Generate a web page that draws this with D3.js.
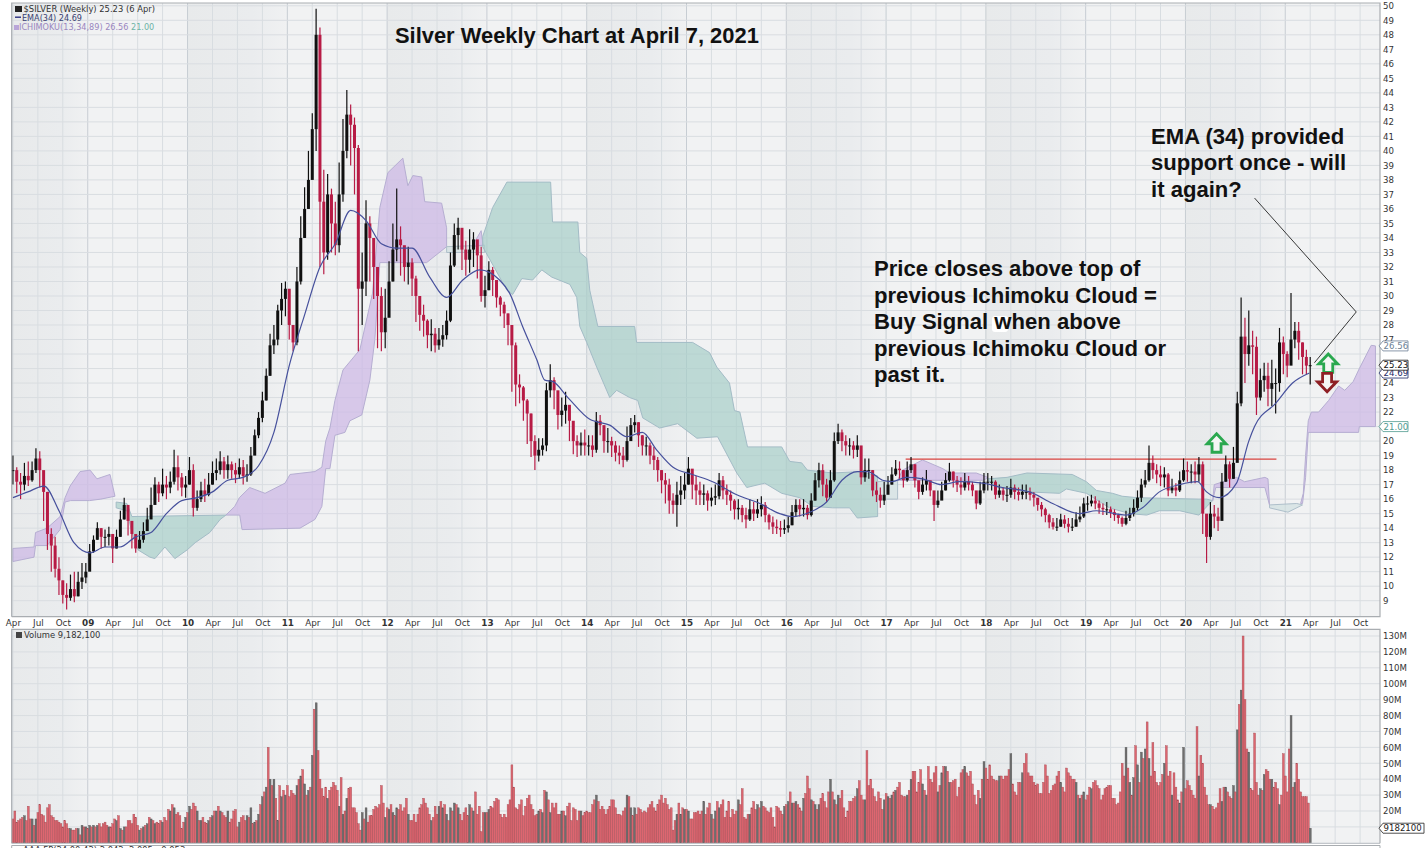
<!DOCTYPE html>
<html><head><meta charset="utf-8">
<script src="https://cdn.jsdelivr.net/npm/d3@7/dist/d3.min.js"></script>
<style>html,body{margin:0;padding:0;background:#fff;overflow:hidden}svg{display:block}</style>
</head><body><svg id="c" width="1428" height="848"></svg>
<script>
// Two-week price readings, Apr 2008 -> Apr 2021 (period = 2 weeks)
const closes=[
18.0,17.2,17.0,17.6,17.3,18.0,18.8,18.0,16.5,13.6,12.8,11.2,10.4,9.4,9.2,9.8,9.3,10.3,10.6,11.0,
12.4,13.2,14.0,13.4,13.4,13.6,12.6,13.4,14.6,15.6,14.5,13.6,12.6,13.2,13.8,14.6,15.6,17.0,16.4,17.0,16.8,17.2,18.2,17.5,16.8,17.0,
18.0,15.4,16.0,16.6,16.3,17.0,17.8,18.0,18.6,18.0,18.4,18.0,17.7,18.2,17.6,17.7,19.0,20.4,21.6,22.8,24.5,26.6,27.0,29.0,29.8,30.5,
28,26.8,31,34,36,38,41.5,48,36.5,33,37,35,33.5,37,40,42.5,41.8,40.2,30.5,31,35,34,32,30,27.5,28.5,
31,33.2,33.9,33.5,32,32.3,31.2,30,28.7,28.3,27.3,27.4,26.6,27,27.3,28.3,32.1,34.2,34.7,33.2,32.5,33.2,33.9,32.8,30,30.4,
31.8,31.1,29.9,29.4,28.8,28,26.6,23.9,23.7,22.8,21.9,20,19,19.4,19.7,23.5,24.2,23.5,21.8,22.1,22.5,21.4,20,19.7,19.9,19.7,
19.7,19.4,21.4,21.1,20,20,19.7,19.2,19,18.7,20,21.1,21.3,20.4,19.7,19.7,19,18.7,18,17.3,17,15.9,15.6,16.3,16.6,17,
18.1,17,16.6,16.3,16.4,15.9,16.1,16.2,17.3,16.6,16.3,15.9,15.3,15.4,14.9,14.6,15.3,15,15.3,15.6,14.9,14.4,14.1,14,13.9,14,
14.2,15.1,15.6,15.3,15.4,14.9,15.9,17.3,18,17,16.1,17.3,20,20.6,20,19.7,19.7,19.4,19.7,17.5,18,18,16.6,16.3,15.9,16.3,
17,17.7,18.1,18,17.3,18,18.4,17.3,16.5,17,17.3,16.6,15.6,15.9,16.6,17.3,17.9,17.3,17,16.8,17.2,17,16.6,15.7,16.6,17.2,
17.2,17.2,16.3,16.6,16.3,16.3,16.8,16.5,16.3,16.5,16.5,16.3,16.1,15.6,15.3,14.9,14.4,14.1,14.1,14.6,14.3,14.1,14.1,14.6,14.8,15.7,
15.7,15.9,15.7,15.4,15.3,15.3,15.1,14.9,14.7,14.3,14.7,15,15.4,16.1,17,17.3,18.5,18,17.7,17.5,17.7,16.6,16.8,16.6,17.3,18,
17.9,17.9,17.7,18.4,15,13.4,15,14.8,14.5,17.2,18.4,17.4,18.5,22.6,27.2,26,26.6,26.5,23,24.2,24.5,23.6,24,24,26.8,26,
25.2,27,27.6,26.8,25.8,25.2,25.23];
const highs=[
19.0,18.2,17.8,18.5,18.6,18.6,19.5,19.3,17.5,16.5,14.0,13.4,12.0,10.4,10.2,10.8,11.0,11.0,11.6,11.6,
12.9,13.5,14.4,14.0,13.9,14.1,13.6,13.9,15.2,16.1,15.6,14.2,13.6,13.8,14.4,15.4,16.8,17.5,17.2,18.1,17.6,17.9,19.4,19.0,17.8,17.6,
18.9,18.4,16.6,17.2,17.4,17.8,18.6,18.8,19.3,18.9,19.0,18.6,18.5,18.8,18.7,18.4,19.6,20.8,22.0,23.4,25.0,27.4,28.0,29.4,30.9,31.0,
29.5,28,32,35.5,37.5,40,42.6,49.8,48.5,38.7,38.4,37.4,36.5,39.2,42.2,44.2,43.2,42.3,40.4,33,36.6,35.5,34,31.5,30.6,30.5,
32.4,35,37.4,34.8,33.4,33.4,32.6,31.4,29.8,29.4,28.4,28.4,27.8,27.8,28,29,33,35,35.4,34.5,33.8,34.6,34.4,33.8,33.4,31.4,
32.4,32,30.8,30,29.6,28.8,28,26.8,24.6,23.8,22.9,21.9,20.4,20.2,20.2,24,25.3,24.4,23.4,23,23.4,22.3,20.8,20.4,20.6,20.8,
20.4,20.4,22,21.8,20.8,20.9,20.3,20,19.7,19.6,21,21.6,21.8,21.3,20.4,20.3,19.9,19.6,18.9,18,17.8,17.4,16.4,17.2,17.6,17.8,
18.9,18,17.6,17.2,17,16.6,16.8,17,17.8,17.6,17,16.6,16,16,15.6,15.4,16,15.8,16,16.2,15.8,15,14.8,14.6,14.5,14.6,
14.8,15.6,16,16,16,15.6,16.4,17.8,18.5,18.4,17.4,18,20.6,21.2,20.8,20.4,20.2,20,20.4,19.6,18.8,18.8,18,17.2,16.8,17.2,
17.6,18.2,18.7,18.6,18,18.6,18.9,18.4,17.2,17.5,18,17.2,16.4,16.6,17.2,17.8,18.5,17.9,17.6,17.5,17.8,17.6,17.2,16.5,17.2,17.8,
17.8,17.6,17.3,17,16.8,16.9,17.4,17,16.8,17,17,16.8,16.5,16,15.8,15.4,15,14.7,14.7,15,14.9,14.7,14.7,15.1,15.5,16.1,
16.2,16.3,16.2,15.9,15.7,15.8,15.5,15.3,15,14.8,15.2,15.4,16,16.6,17.4,18,19.7,19,18.4,18.3,18.2,17.8,17.4,17.1,17.9,18.8,
18.6,18.4,18.6,18.9,18.6,14.8,15.8,15.6,15.4,17.8,19,18.6,19.6,23.4,29.9,28.5,29,27.6,27.2,25,25.4,25.4,25.6,25,27.8,27.2,
26.2,30.2,28.2,28.2,26.8,26.3,25.8];
const lows=[
17.0,16.4,16.0,16.6,16.9,17.2,17.8,16.8,14.5,12.5,11.0,10.6,9.4,8.8,8.4,9.0,8.9,9.3,9.8,10.2,
11.6,12.3,13.2,12.6,12.7,12.8,11.6,12.6,13.4,14.6,13.5,12.6,12.3,12.6,13.0,13.8,14.8,16.0,15.8,16.2,16.0,16.4,17.0,16.6,16.2,16.1,
17.0,14.8,15.2,15.8,15.8,16.2,17.0,17.3,17.7,17.4,17.4,17.4,17.1,17.4,17.0,17.2,17.6,19.2,20.2,21.3,22.8,24.5,26.0,26.6,28.0,28.6,
27,26.2,26.6,30.8,34,36,38.4,40,32,31.5,32.5,33,32.8,33,36.5,39.5,39,37,26.2,28,30,31,29.8,26.4,26.2,26.4,
28.8,31,32.4,31.4,31,30.8,30,28.2,27.6,27.2,26.4,26.2,26.1,26.3,26.5,27,28.2,32,33.2,31.8,31.4,31.6,32,31.2,29.6,29.2,
30.4,30,29.2,28.6,27.8,26.6,23.4,22.4,22.6,21.4,19.8,18.9,18.0,18.6,19,19.3,23,22.2,20.8,21,21.2,20,19.1,18.9,19,19,
19,18.9,19.2,20.4,19.2,19.2,18.9,18.6,18.4,18.2,18.6,20,20.6,19.6,19,19,18.4,18,17.2,16.4,15.7,15,15,14.1,15.6,16,
17,16,15.6,15.6,15.6,15.2,15.5,15.6,16,16,15.6,15.2,14.6,14.6,14.4,14.0,14.5,14.5,14.7,14.8,14.4,13.9,13.6,13.6,13.4,13.6,
13.7,14.2,14.8,14.8,14.8,14.6,14.8,15.9,16.8,16.2,15.8,16.4,17.2,19.8,19.3,19,19,18.8,18.9,17,17.2,17.4,16.2,15.8,15.4,15.6,
16.4,17,17.6,17.4,16.8,17.2,17.8,16.8,16,16.3,16.6,16.2,14.5,15.4,16,16.6,17.2,16.8,16.5,16.3,16.6,16.6,16.2,15.3,15.6,16.4,
16.6,16.6,16,16.1,15.9,15.8,16.1,16,15.9,16,16,15.9,15.5,15.2,14.8,14.4,14,13.9,13.8,14.1,14,13.7,13.8,14.1,14.4,14.7,
15.2,15.5,15.3,15,14.9,14.9,14.7,14.5,14.3,14.1,14.2,14.5,14.8,15.2,15.8,16.8,17.2,17.4,17.1,16.9,16.8,16.2,16.4,16.2,16.5,17.2,
17.2,17.1,17.1,17.2,13.6,11.6,13.2,14,13.8,14.6,17.2,16.8,17.4,19.4,22.4,24,25.2,24.6,21.8,22.8,23.4,22.4,22.4,21.9,23.4,24.6,
24.4,25.4,26.4,25.6,24.6,24.6,23.9];

// EMA(34) readings: period position, value
const emaPeriods=[0,3.9,8.1,12,15.9,20.1,24,27.9,32,36,40,44,48,52,56,60,64,68,72,76,80,84,88,92,96,100,104,108.6,113,117.2,121.6,126.8,129.4,132.8,136.5,138.6,140.7,144.6,150.3,155.5,160,164,167.7,172,177,182.3,188.6,194.6,199.8,203,207.6,212,216,220,222.7,226.6,229,232.8,237,242,246.6,252.6,257.8,264.9,270.9,277.9,282.3,290,294.3,298.7,304,308.6,311,314.3,318.8,322,323.5,329,333.4,337.8];
const emaValues=[16.1,16.5,16.9,15.2,13,12.3,12.7,12.7,13.4,13.7,15,15.9,16.1,16.5,17.3,17.5,18.3,20.6,25.2,28.7,32,33.6,35.9,35.2,33.6,33.3,33.3,31.3,29.9,31.1,31.8,31.1,30.2,27.9,25.6,24.2,24.1,23,21.5,21.1,20.3,20.6,19.4,18.2,17.7,17.2,16.3,15.7,15,14.8,15.1,15.8,17.3,17.9,17.9,17.3,17.2,17.5,17.4,17,17.2,17.1,16.8,16.5,15.7,15,15.2,14.9,15.4,16.5,17,17.2,16.5,16.1,17.1,20,21,22.6,24,24.69];

// Ichimoku cloud outlines: [period, price]
const cloudPurple2008=[[0,12.6],[5.5,12.7],[5.9,13.7],[8.9,14],[12.3,14.8],[13.6,16.1],[14.9,16.9],[17.5,17.9],[20.1,18],[21.9,17.4],[25.3,17.7],[26.6,16.2],[22.9,16],[20,15.9],[15,15.9],[13.6,15.8],[12.3,13.9],[8.9,12.8],[5.9,12.8],[5.5,12],[0,11.7]];
const cloudGreen2009=[[26.9,15.8],[29.7,15.7],[31,14.8],[55.5,14.9],[54,14.6],[51.3,13.7],[47.5,13],[45.4,12.5],[42.2,11.9],[39.6,12.7],[37,11.9],[35.7,12],[32.6,12.5],[31,13.7],[29.7,15.2],[26.9,15.4]];
const cloudPurple2011=[[55.5,14.9],[57.8,15.5],[59,16.1],[61.7,16.8],[65.7,16.4],[70.9,17.1],[72.2,17.7],[78.7,17.9],[80.5,18.2],[81.5,20],[82.6,20.9],[83.9,22.8],[86,24.9],[90.4,26.3],[93.7,30.2],[95.6,36.1],[97.7,38.5],[101.6,39.5],[102.9,37.6],[104.2,38.3],[106.5,38.2],[107.3,36.5],[111.7,36.4],[113,34.7],[113,33.4],[107.8,32.3],[95.6,32.3],[95,29.7],[94.3,27],[93,24.2],[90.9,21.8],[87.8,21.4],[86.5,20.6],[83.9,20.4],[82.6,18.1],[81.5,18.1],[80.5,15.5],[78.7,14.6],[74.8,14],[59.7,13.9],[59.1,14.9]];
const cloudGreenThin=[[113,33.4],[122.9,33.5],[122.9,33],[113,33]];
const cloudPurpleSmall=[[119.6,33.4],[122,34.5],[122.5,33.5]];
const cloudGreen2013=[[122.4,34.1],[125,36.1],[128.7,37.85],[140.1,37.85],[140.6,35.1],[147.2,35.1],[147.7,33],[149.5,32.6],[150.3,30.4],[152.4,27.9],[162,27.9],[162.5,26.8],[177.1,26.8],[181.5,26.1],[183.4,25.1],[186.7,24],[188,22.1],[189.4,22],[191.4,19.6],[200.3,19.6],[202.4,18.6],[205.5,18.5],[207,18],[213.6,17.8],[220.6,17.9],[225.3,17.6],[225.3,14.8],[220,14.7],[218,15.4],[213.6,15.4],[208.4,15.5],[205,16.1],[200.3,16.4],[195.9,17.1],[191.2,16.8],[188.6,17.8],[183.6,20.3],[178.2,20.2],[173.2,21.2],[168.5,20.9],[164.1,21.6],[162.8,22.8],[160.7,23],[157.3,23.5],[155.5,23],[152.1,25.1],[149.5,26.8],[147.7,27.9],[146.9,29.9],[145.1,30.8],[140.4,31.3],[137.8,31.8],[135.4,31.1],[132.6,31.2],[130.2,30.1],[128.7,30.4],[122.4,33.4]];
const cloudPale2017=[[225.3,17.2],[230.5,17.3],[230.5,16],[225.3,16]];
const cloudPurple2017=[[230.5,17.3],[231.8,18],[237,18.7],[242.3,18.1],[244,17.8],[251,17.8],[254,17.5],[253,17.3],[231.8,17.3]];
const cloudGreen2018=[[254,17.4],[259,17.5],[264.2,17.8],[276,17.7],[279.7,17.2],[282.3,16.6],[286.5,16.4],[289,16.2],[293,16.1],[309,16],[311,16],[312.6,15.9],[311.1,15.5],[309,14.9],[304,15.2],[298.7,15.2],[295.4,14.9],[291,15],[285.7,15.4],[279.7,16.4],[274.5,16.7],[272.7,16.4],[264.2,16.5],[256.3,16.8],[254,17.3]];
const cloudPurple2020=[[312.6,15.9],[313,17],[318.8,17.5],[320.9,17.2],[326.2,17.5],[327,17.4],[327.4,15.6],[326.2,16.8],[313.4,16.8]];
const cloudPale2020=[[327.4,15.6],[334.5,15.7],[336,15.6],[332.2,15.1],[327.4,15.4]];
const cloudPurple2021=[[335.5,15.7],[336.2,16.4],[336.8,19],[337.5,21.4],[338.3,22],[340.2,22],[342.8,22.8],[345.4,23.8],[347,23.5],[349.2,24.1],[350.8,25],[353.9,26.6],[355,26.56],[355,21],[350.8,21],[350.6,20.6],[337.5,20.6],[336.8,17.5],[336,15.7]];

// Weekly volume readings, millions, by calendar year
const vol2008=[15,20,13,14,15,16,17,14,23,15,15,11,15,19,24,18,17,13,22,24,17,16,14,14,13,12,10,14,12,9,9,8,8,9,9,5,11,10,10];
const vol2009=[9,11,10,11,10,11,12,10,12,13,11,10,10,12,15,14,17,9,8,10,10,14,14,12,18,16,11,8,9,10,11,12,16,15,14,12,13,12,14,13,16,14,21,20,24,22,18,19,17,9,13,16];
const vol2010=[19,23,21,25,23,20,14,14,16,13,12,14,16,17,20,20,23,20,19,17,16,20,13,15,20,21,10,13,16,17,14,17,16,22,12,13,14,18,24,29,32,35,60,40,36,40,28,14,36,29,33,30];
const vol2011=[36,29,33,31,30,36,40,42,46,37,30,33,35,55,84,88,58,40,34,29,35,28,33,35,38,36,33,23,41,18,20,28,34,35,22,22,19,12,8,19,15,22,13,17,17,21,23,22,24,36,25,16];
const vol2012=[22,21,24,19,17,22,21,24,20,22,28,18,14,14,18,13,18,22,24,28,25,22,18,14,16,23,18,23,26,22,24,18,14,22,20,25,24,22,18,14,19,22,17,24,22,20,32,18,23,7,19,19];
const vol2013=[19,21,23,22,26,28,27,18,16,18,16,24,27,49,35,22,21,24,27,17,23,28,30,24,21,17,18,20,21,19,33,32,27,19,25,22,25,18,18,20,20,17,23,25,14,22,21,14,20,20,17,19];
const vol2014=[20,19,19,24,27,30,26,21,23,21,18,21,23,27,27,22,18,18,17,20,22,30,29,22,17,22,18,22,21,19,20,19,22,24,26,22,20,24,27,30,25,28,24,21,22,8,14,18,25,18,22,21];
const vol2015=[21,20,15,15,19,19,20,18,20,26,18,22,25,18,15,20,26,22,24,27,16,20,26,16,21,18,20,27,24,34,16,15,18,18,22,26,21,24,22,26,23,22,20,19,22,16,10,23,22,20,18,23];
const vol2016=[24,26,32,25,25,26,24,22,20,28,31,42,34,27,26,24,21,24,28,31,26,22,32,40,32,27,24,30,28,33,22,16,20,26,26,28,29,34,39,30,27,27,58,36,40,34,29,26,32,28,21,27];
const vol2017=[31,29,28,30,32,33,35,38,30,29,29,30,33,40,45,45,32,38,46,37,33,30,48,40,38,44,48,32,36,44,48,48,45,38,38,39,40,29,35,44,46,48,44,42,45,37,30,24,33,28,40,51];
const vol2018=[47,40,49,42,40,39,39,42,42,40,42,42,46,56,37,32,30,38,38,44,50,56,44,42,42,38,36,37,31,31,38,49,42,31,33,36,37,42,45,38,35,32,47,44,42,40,40,38,30,28,30,32];
const vol2019=[27,30,35,34,38,39,36,34,27,30,34,35,36,36,28,28,24,25,32,50,42,60,47,38,30,41,61,49,38,57,53,59,76,53,42,63,45,38,36,38,43,50,61,42,45,30,44,35,27,25,32,60];
const vol2020=[34,39,36,33,30,28,73,42,55,50,35,30,24,24,23,21,22,25,34,26,35,35,32,29,28,36,32,71,87,96,130,90,59,57,34,33,69,38,30,34,33,43,46,45,40,40,35,38,34,24,30,56];
const vol2021=[42,32,59,80,35,38,50,40,32,29,29,29,25,9.18];
const volumeYears=[vol2008,vol2009,vol2010,vol2011,vol2012,vol2013,vol2014,vol2015,vol2016,vol2017,vol2018,vol2019,vol2020,vol2021];

// Axis labels
const quarterLabels=["Apr","Jul","Oct","09","Apr","Jul","Oct","10","Apr","Jul","Oct","11","Apr","Jul","Oct","12","Apr","Jul","Oct","13","Apr","Jul","Oct","14","Apr","Jul","Oct","15","Apr","Jul","Oct","16","Apr","Jul","Oct","17","Apr","Jul","Oct","18","Apr","Jul","Oct","19","Apr","Jul","Oct","20","Apr","Jul","Oct","21","Apr","Jul","Oct"];
const priceTicks=[9,10,11,12,13,14,15,16,17,18,19,20,21,22,23,24,25,26,27,28,29,30,31,32,33,34,35,36,37,38,39,40,41,42,43,44,45,46,47,48,49,50];
const coveredPriceLabels=[21,25,26];
const volumeTicks=[20,30,40,50,60,70,80,90,100,110,120,130];
const volumeGrid=[10,20,30,40,50,60,70,80,90,100,110,120,130];

// Annotation content
const titleText="Silver Weekly Chart at April 7, 2021";
const noteEma=["EMA (34) provided","support once - will","it again?"];
const noteBuy=["Price closes above top of","previous Ichimoku Cloud =","Buy Signal when above","previous Ichimoku Cloud or","past it."];
const calloutPeriods=[323.5,350,339.1];
const calloutPrices=[36.75,28.9,25.4];
const resistancePeriods=[232.6,329.2];
const resistanceLevel=18.76;
const arrowMarks=[{p:313.6,v:19.85,dir:"up"},{p:342.7,v:25.35,dir:"up"},{p:342.4,v:24.05,dir:"down"}];
const priceTags=[{v:26.56,t:"26.56",c:"#6d7f95"},{v:21,t:"21.00",c:"#4f9a8f"},{v:24.69,t:"24.69",c:"#1d2a66"},{v:25.23,t:"25.23",c:"#111"}];

const W=1428,H=848,L=11.7,R=1380,PT=3,PB=616.7,VT=629.3,VB=843.3;
const FONT="'DejaVu Sans',Verdana,sans-serif";
const svg=d3.select("#c");
const x=d3.scaleLinear().domain([0,338]).range([12.9,1310.2]);
const y=d3.scaleLinear().domain([9,50]).range([600.7,5.8]);
const yV=d3.scaleLinear().domain([20,130]).range([811,636]);

svg.append("rect").attr("width",W).attr("height",H).attr("fill","#fff");
const defs=svg.append("defs");
const grad=defs.append("linearGradient").attr("id","band");
grad.append("stop").attr("offset","0%").attr("stop-color","#e8eaeb");
grad.append("stop").attr("offset","65%").attr("stop-color","#eaecee");
grad.append("stop").attr("offset","100%").attr("stop-color","#f0f1f2");

// Panels
const panels=[[PT,PB],[VT,VB]];
panels.forEach(([t,b])=>{
  svg.append("rect").attr("x",L).attr("y",t).attr("width",R-L).attr("height",b-t).attr("fill","#f1f2f3");
  // even years are shaded
  d3.range(0,quarterLabels.length,8).forEach(i=>{
    const x0=i===0?L:x((i-1)*6.5), x1=x((i+3)*6.5);
    svg.append("rect").attr("x",x0).attr("y",t).attr("width",x1-x0).attr("height",b-t).attr("fill","url(#band)");
  });
  // vertical grid
  quarterLabels.forEach((q,i)=>{
    svg.append("line").attr("x1",x(i*6.5)).attr("x2",x(i*6.5)).attr("y1",t).attr("y2",b)
      .attr("stroke",q.length===2?"#c7cdd3":"#d8dde1").attr("stroke-width",1);
  });
});
priceTicks.forEach(v=>svg.append("line").attr("x1",L).attr("x2",R).attr("y1",y(v)).attr("y2",y(v)).attr("stroke","#d9dde1"));
volumeGrid.forEach(v=>svg.append("line").attr("x1",L).attr("x2",R).attr("y1",yV(v)).attr("y2",yV(v)).attr("stroke","#d9dde1"));

// Cloud
const cloudLine=d3.line().x(d=>x(d[0])).y(d=>y(d[1]));
const purple={fill:"#cdb9e6",op:.75,st:"#b6aed2"},green={fill:"#a9cfc9",op:.72,st:"#a3bcc6"},pale={fill:"#d0e0e0",op:.7,st:"#aebfca"};
[[cloudPurple2008,purple],[cloudGreen2009,green],[cloudPurple2011,purple],[cloudGreenThin,pale],[cloudPurpleSmall,purple],[cloudGreen2013,green],[cloudPale2017,pale],[cloudPurple2017,purple],[cloudGreen2018,green],[cloudPurple2020,purple],[cloudPale2020,pale],[cloudPurple2021,purple]].forEach(([pts,s])=>{
  svg.append("path").attr("d",cloudLine(pts)+"Z").attr("fill",s.fill).attr("fill-opacity",s.op).attr("stroke",s.st).attr("stroke-width",1);
});

// Resistance line
svg.append("line").attr("x1",x(resistancePeriods[0])).attr("x2",x(resistancePeriods[1]))
  .attr("y1",y(resistanceLevel)).attr("y2",y(resistanceLevel)).attr("stroke","#d8433f").attr("stroke-width",1.2);

// Volume bars
const isUp=p=>p>0&&closes[Math.min(p,closes.length-1)]>closes[Math.min(p,closes.length-1)-1];
const isDarkBar=d=>isUp(Math.floor(d.w/2))&&d.w%2===0;
let week=0;
const volRows=[];
volumeYears.forEach(arr=>arr.forEach(v=>{volRows.push({w:week,v});week++;}));
svg.append("g").selectAll("rect").data(volRows).join("rect")
  .attr("x",d=>x(d.w/2)-0.9).attr("width",1.9)
  .attr("y",d=>yV(d.v)).attr("height",d=>yV(0)-yV(d.v))
  .attr("fill",d=>isDarkBar(d)?"#6e6e6e":"#dd6670")
  .attr("stroke",d=>isDarkBar(d)?"#575757":"#a34a52").attr("stroke-width",.4);
svg.append("line").attr("x1",L).attr("x2",R).attr("y1",VB).attr("y2",VB).attr("stroke","#b5babe");

// Candles
const rows=closes.map((c,i)=>({i,c,h:highs[i],l:lows[i],o:i?closes[i-1]:c}));
const col=d=>d.c>=d.o?"#101010":"#b71b45";
const cg=svg.append("g");
cg.selectAll("line").data(rows).join("line")
  .attr("x1",d=>x(d.i)).attr("x2",d=>x(d.i)).attr("y1",d=>y(d.h)).attr("y2",d=>y(d.l))
  .attr("stroke",col).attr("stroke-width",1.2);
cg.selectAll("rect").data(rows).join("rect")
  .attr("x",d=>x(d.i)-1.5).attr("width",3)
  .attr("y",d=>y(Math.max(d.o,d.c))).attr("height",d=>Math.max(1,Math.abs(y(d.o)-y(d.c))))
  .attr("fill",col);

// EMA
svg.append("path").datum(emaPeriods.map((p,i)=>[p,emaValues[i]]))
  .attr("d",d3.line().x(d=>x(d[0])).y(d=>y(d[1])).curve(d3.curveMonotoneX))
  .attr("fill","none").attr("stroke","#46509c").attr("stroke-width",1.2);

// Panel borders
svg.append("path").attr("d",`M${L},${PB}V${PT}H${R}V${PB}H${L}`).attr("fill","none").attr("stroke","#a9adb1").attr("stroke-width",1.2);
svg.append("path").attr("d",`M${L},${VB}V${VT}H${R}V${VB}`).attr("fill","none").attr("stroke","#a9adb1").attr("stroke-width",1.2);
svg.append("path").attr("d",`M${L},848V845.5H${R}V848`).attr("fill","none").attr("stroke","#a9adb1").attr("stroke-width",1);

// Axes
function styleAxis(g){g.select(".domain").remove();g.selectAll(".tick line").remove();
  g.selectAll("text").attr("font-family",FONT).attr("font-size",8.6).attr("fill","#333");}
svg.append("g").attr("transform",`translate(${R-7},0)`)
  .call(d3.axisRight(y).tickValues(priceTicks.filter(v=>!coveredPriceLabels.includes(v))).tickSize(0).tickPadding(10)).call(styleAxis);
svg.append("g").attr("transform",`translate(${R-7},0)`)
  .call(d3.axisRight(yV).tickValues(volumeTicks).tickFormat(d=>d+"M").tickSize(0).tickPadding(10)).call(styleAxis);
svg.append("g").attr("transform","translate(0,620)")
  .call(d3.axisBottom(x).tickValues(quarterLabels.map((q,i)=>i*6.5)).tickFormat((d,i)=>quarterLabels[i]).tickSize(0).tickPadding(0))
  .call(styleAxis).call(g=>g.selectAll("text").attr("font-size",8.8)
    .attr("font-weight",(d,i)=>quarterLabels[i].length===2?"bold":"normal"));

// Value tags
function tag(yy,t,c,wd){
  const x0=R-1;
  svg.append("path").attr("d",`M${x0},${yy}l4,-5h${wd}v10h-${wd}z`).attr("fill","#fff").attr("stroke",c).attr("stroke-width",.8);
  svg.append("text").attr("x",x0+4.5).attr("y",yy+3).attr("font-family",FONT).attr("font-size",8.6).attr("fill",c).text(t);
}
priceTags.forEach(d=>tag(y(d.v),d.t,d.c,25));
tag(yV(9.18),"9182100","#222",41);

// Legends
const lg=svg.append("g").attr("font-family",FONT).attr("font-size",8.4);
lg.append("text").attr("x",23.5).attr("y",11.5).attr("fill","#333").text("$SILVER (Weekly) 25.23 (6 Apr)");
lg.append("rect").attr("x",15).attr("y",6).attr("width",7).attr("height",6).attr("fill","#222");
lg.append("text").attr("x",22).attr("y",20.5).attr("fill","#3a3f70").attr("font-size",8.1).text("EMA(34) 24.69");
lg.append("rect").attr("x",15).attr("y",16.5).attr("width",6).attr("height",1.4).attr("fill","#2a2f80");
const ich=lg.append("text").attr("x",19).attr("y",30).attr("fill","#9a86bf").attr("font-size",8.15);
ich.append("tspan").text("ICHIMOKU(13,34,89) 26.56 ");
ich.append("tspan").attr("fill","#6db3a6").text("21.00");
lg.append("rect").attr("x",14).attr("y",25).attr("width",5).attr("height",5).attr("fill","#b9a5d8");
lg.append("text").attr("x",24).attr("y",638).attr("fill","#333").text("Volume 9,182,100");
lg.append("rect").attr("x",16).attr("y",632).attr("width",6).attr("height",6).attr("fill","#444");
lg.append("text").attr("x",23).attr("y",853).attr("fill","#333").text("AAA FP(24,00,42) 2.042, 2.095, -0.053");

// Notes
const ng=svg.append("g").attr("font-family","'Liberation Sans',Arial,sans-serif").attr("font-weight","bold").attr("fill","#111");
ng.append("text").attr("x",395).attr("y",43).attr("font-size",21.9).text(titleText);
ng.selectAll(".e").data(noteEma).join("text").attr("x",1151).attr("y",(d,i)=>143.5+26.6*i).attr("font-size",22.1).text(d=>d);
svg.append("rect").attr("x",992).attr("y",316).attr("width",16).attr("height",16).attr("rx",3).attr("fill","#fff");
const ng2=svg.append("g").attr("font-family","'Liberation Sans',Arial,sans-serif").attr("font-weight","bold").attr("fill","#111");
ng2.selectAll(".b").data(noteBuy).join("text").attr("x",874).attr("y",(d,i)=>276+26.55*i).attr("font-size",22.1).text(d=>d);

// Callout line
svg.append("path").datum(calloutPeriods.map((p,i)=>[p,calloutPrices[i]]))
  .attr("d",d3.line().x(d=>x(d[0])).y(d=>y(d[1])))
  .attr("fill","none").attr("stroke","#222").attr("stroke-width",.9);

// Block arrows
arrowMarks.forEach(a=>{
  const cx=x(a.p),cy=y(a.v),s=a.dir==="up"?1:-1;
  const pts=[[0,-9.5],[9.5,0.5],[4.5,0.5],[4.5,9],[-4.5,9],[-4.5,0.5],[-9.5,0.5]].map(p=>[cx+p[0],cy+s*p[1]]);
  svg.append("path").attr("d",d3.line()(pts)+"Z").attr("fill","#f4f6f4")
    .attr("stroke",a.dir==="up"?"#2aa84f":"#8e1f24").attr("stroke-width",2.8);
});
</script></body></html>
